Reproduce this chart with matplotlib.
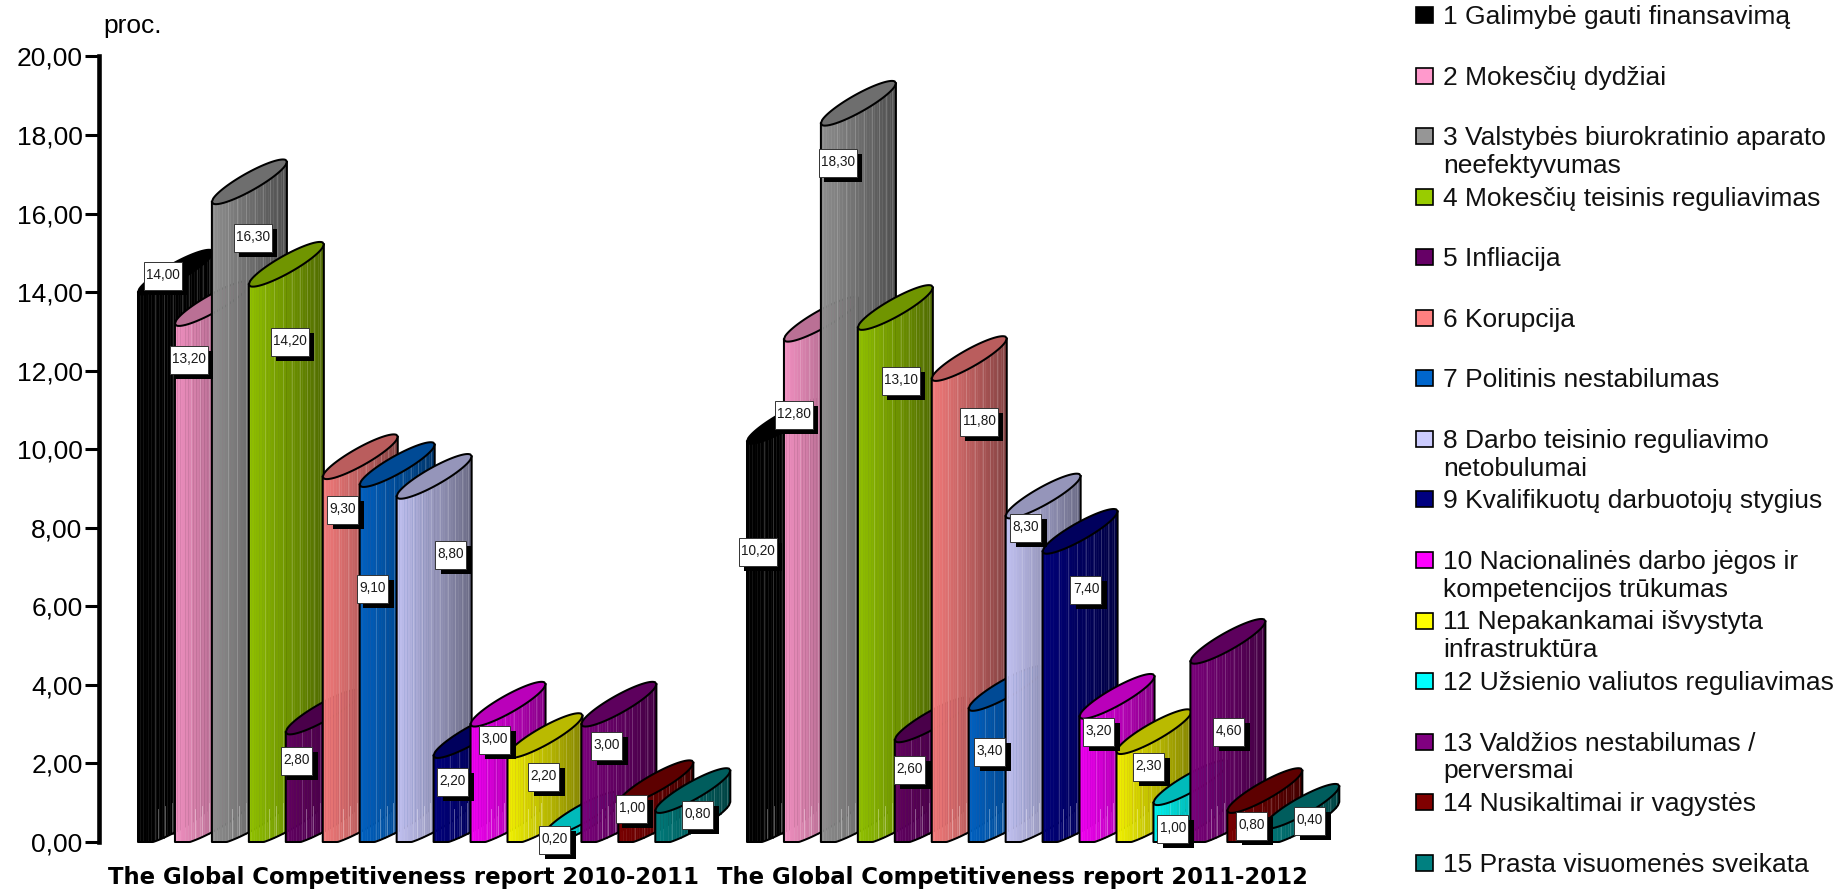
import numpy as np
import matplotlib
matplotlib.use("Agg")
import matplotlib.pyplot as plt
from matplotlib.collections import PolyCollection
from matplotlib.patches import Rectangle

plt.rcParams["font.family"] = ["Liberation Sans", "DejaVu Sans"]

group_names = ["The Global Competitiveness report 2010-2011",
               "The Global Competitiveness report 2011-2012"]
values_2010 = [14.0, 13.2, 16.3, 14.2, 2.8, 9.3, 9.1, 8.8, 2.2, 3.0, 2.2, 0.2, 3.0, 1.0, 0.8]
values_2011 = [10.2, 12.8, 18.3, 13.1, 2.6, 11.8, 3.4, 8.3, 7.4, 3.2, 2.3, 1.0, 4.6, 0.8, 0.4]
y_ticks = [0, 2, 4, 6, 8, 10, 12, 14, 16, 18, 20]
y_tick_labels = ["0,00", "2,00", "4,00", "6,00", "8,00", "10,00", "12,00",
                 "14,00", "16,00", "18,00", "20,00"]
legend_labels = ["1 Galimybė gauti finansavimą",
                 "2 Mokesčių dydžiai",
                 "3 Valstybės biurokratinio aparato\nneefektyvumas",
                 "4 Mokesčių teisinis reguliavimas",
                 "5 Infliacija",
                 "6 Korupcija",
                 "7 Politinis nestabilumas",
                 "8 Darbo teisinio reguliavimo\nnetobulumai",
                 "9 Kvalifikuotų darbuotojų stygius",
                 "10 Nacionalinės darbo jėgos ir\nkompetencijos trūkumas",
                 "11 Nepakankamai išvystyta\ninfrastruktūra",
                 "12 Užsienio valiutos reguliavimas",
                 "13 Valdžios nestabilumas /\nperversmai",
                 "14 Nusikaltimai ir vagystės",
                 "15 Prasta visuomenės sveikata"]
colors = ["#000000", "#FF99CC", "#969696", "#99CC00", "#660066", "#FF8080", "#0066CC", "#CCCCFF",
          "#000080", "#FF00FF", "#FFFF00", "#00FFFF", "#800080", "#800000", "#008080"]

# where the value boxes sit in the picture, in pixels
box_xy_2010 = [(163, 276), (189, 360), (253, 238), (290, 342), (297, 761), (343, 510), (373, 589), (451, 555),
               (453, 782), (495, 740), (544, 777), (555, 840), (607, 746), (632, 809), (698, 815)]
box_xy_2011 = [(758, 552), (794, 415), (838, 163), (901, 381), (910, 770), (979, 422), (990, 752), (1026, 528),
               (1086, 590), (1099, 732), (1149, 767), (1173, 829), (1229, 732), (1252, 826), (1310, 821)]

W_PX, H_PX = 1839, 889
X0_PX, SLOT_PX = 138.0, 36.95
Y0_PX, Y20_PX = 842.0, 56.5
UNIT_PX = (Y0_PX - Y20_PX) / 20
AX_LEFT_PX = 98.5
BAR_W = 75 / SLOT_PX
BAR_D = 40 / UNIT_PX
BAR_H = 10 / UNIT_PX
GROUP2_START = (747 - X0_PX) / SLOT_PX
STREAKS = [0.22, 0.34, 0.46, 0.58, 0.68, 0.78, 0.87, 0.95]
BASE_STREAKS = [0.27, 0.36, 0.45]


def shade(color, f):
    rgb = np.array(matplotlib.colors.to_rgb(color))
    return tuple(rgb * f)


def lighten(color, a):
    rgb = np.array(matplotlib.colors.to_rgb(color))
    return tuple(rgb + (1 - rgb) * a)


def curve(u, sign):
    return BAR_D * u + sign * 2 * BAR_H * np.sqrt(u * (1 - u))


def base(u):
    # the foot of a bar stays flat before it climbs away to the right
    return np.maximum(curve(u, -1), 0)


def draw_bar(ax, x, value, color, z):
    edges = np.linspace(0, 1, 29)
    polys, faces = [], []
    for a, b in zip(edges[:-1], edges[1:]):
        polys.append([(x + a * BAR_W, base(a)), (x + b * BAR_W, base(b)),
                      (x + b * BAR_W, value + curve(b, -1)), (x + a * BAR_W, value + curve(a, -1))])
        faces.append(shade(color, 0.95 - 0.43 * (a + b) / 2))
    ax.add_collection(PolyCollection(polys, facecolors=faces, edgecolors=faces, linewidths=0.3,
                                     zorder=z, clip_on=False))
    for u in STREAKS:
        f = 0.95 - 0.43 * u
        c = lighten(shade(color, f), 0.22)
        ax.plot([x + u * BAR_W] * 2, [base(u), value + curve(u, -1)], color=c, lw=0.6,
                zorder=z, clip_on=False)
    if value > 2:
        for u in BASE_STREAKS:
            c = lighten(shade(color, 0.95 - 0.43 * u), 0.4)
            ax.plot([x + u * BAR_W] * 2, [base(u), base(u) + 0.8], color=c, lw=0.6,
                    zorder=z, clip_on=False)

    # outline of the body
    uu = np.linspace(0, 1, 60)
    ox = np.r_[x, x + uu * BAR_W, x + BAR_W]
    oy = np.r_[value, base(uu), value + BAR_D]
    ax.plot(ox, oy, color="black", lw=1.45, zorder=z + 0.1, clip_on=False, solid_joinstyle="round")

    # top ellipse
    cap_x = np.r_[x + uu * BAR_W, x + uu[::-1] * BAR_W]
    cap_y = np.r_[value + curve(uu, 1), value + curve(uu[::-1], -1)]
    ax.fill(cap_x, cap_y, facecolor=shade(color, 0.73), edgecolor="black", lw=1.45,
            zorder=z + 0.2, clip_on=False)


def draw_box(ov, xy, value):
    txt = f"{value:.2f}".replace(".", ",")
    w = 38 if len(txt) == 5 else 31
    h = 27.5
    cx, cy = xy
    ov.add_patch(Rectangle((cx - w / 2 + 5.5, cy - h / 2 + 5), w, h, facecolor="black", edgecolor="none", zorder=5))
    ov.add_patch(Rectangle((cx - w / 2, cy - h / 2), w, h, facecolor="white", edgecolor="#333333", lw=0.7, zorder=6))
    ov.text(cx, cy - 1, txt, ha="center", va="center", fontsize=9.8, color="#1a1a1a", zorder=7)


fig = plt.figure(figsize=(W_PX / 100, H_PX / 100), dpi=100)
ax = fig.add_axes([AX_LEFT_PX / W_PX, 1 - Y0_PX / H_PX, (W_PX - AX_LEFT_PX) / W_PX, (Y0_PX - Y20_PX) / H_PX])
ax.set_xlim((AX_LEFT_PX - X0_PX) / SLOT_PX, (W_PX - X0_PX) / SLOT_PX)
ax.set_ylim(0, 20)

for i in range(15):
    draw_bar(ax, i, values_2010[i], colors[i], 3 + i)
    draw_bar(ax, GROUP2_START + i, values_2011[i], colors[i], 3 + i)

for s in ["top", "right", "bottom"]:
    ax.spines[s].set_visible(False)
ax.spines["left"].set_linewidth(3.3)
ax.set_yticks(y_ticks)
ax.set_yticklabels(y_tick_labels, fontsize=19)
ax.tick_params(axis="y", length=10, width=2.2, pad=1.5)

ax.set_xticks([(403 - X0_PX) / SLOT_PX, (1012 - X0_PX) / SLOT_PX])
ax.set_xticklabels(group_names, fontsize=16.4, fontweight="bold", family="DejaVu Sans")
ax.tick_params(axis="x", length=0, pad=17)

# overlay in picture pixels for the value boxes and the legend
ov = fig.add_axes([0, 0, 1, 1], zorder=10)
ov.set_xlim(0, W_PX)
ov.set_ylim(H_PX, 0)
ov.axis("off")

for i in range(15):
    draw_box(ov, box_xy_2010[i], values_2010[i])
    draw_box(ov, box_xy_2011[i], values_2011[i])

ov.text(103, 26, "proc.", fontsize=19, va="center", ha="left")

for i, label in enumerate(legend_labels):
    y = 15 + 60.55 * i
    ov.add_patch(Rectangle((1416, y - 8), 17, 16, facecolor=colors[i], edgecolor="black", lw=1.2))
    ov.text(1443, y - 10, label, fontsize=19, va="top", ha="left", linespacing=1.2, color="#111111")

fig.savefig("out.png", dpi=100)
